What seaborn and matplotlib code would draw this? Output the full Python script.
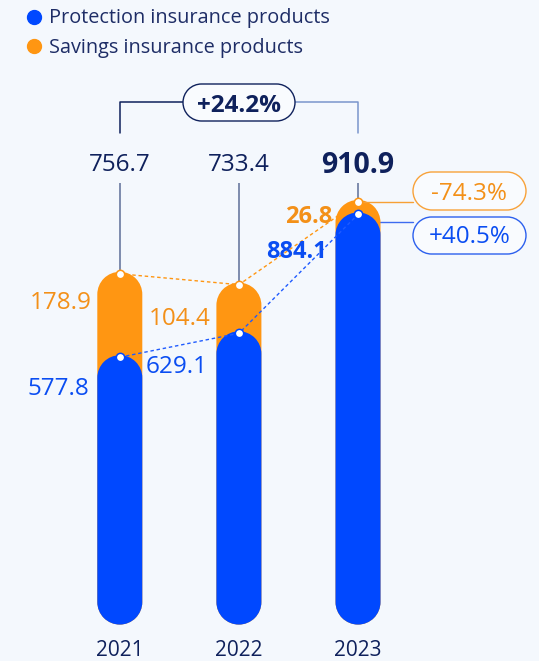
import numpy as np
import pandas as pd
import matplotlib
matplotlib.use("Agg")
import matplotlib.pyplot as plt
import matplotlib.transforms as mtransforms
from matplotlib.path import Path
from matplotlib.patches import PathPatch
from matplotlib.lines import Line2D
import seaborn as sns

# ---- data -------------------------------------------------------------
years = ["2021", "2022", "2023"]
protection = [577.8, 629.1, 884.1]
savings = [178.9, 104.4, 26.8]
totals = [756.7, 733.4, 910.9]
total_change = "+24.2%"
protection_change = "+40.5%"
savings_change = "-74.3%"
legend_labels = ["Protection insurance products", "Savings insurance products"]

# ---- style ------------------------------------------------------------
BG = "#F4F8FD"
BLUE = "#0048FF"
ORANGE = "#FF9612"
NAVY = "#0F215C"
LEGEND_TXT = "#1E2D66"
BLUE_TXT = "#0A4DF2"
ORANGE_TXT = "#F39018"
STEM = "#5D6E98"

W, H, DPI = 539, 661, 100
ZERO_PX = 624.6          # pixel row of the value axis origin
PX_PER_UNIT = 0.4662     # vertical pixels per unit of value
X0_PX, STEP_PX = 119.8, 119.1
BAR_PX = 45

sns.set_theme(style="white")
plt.rcParams["font.family"] = ["Open Sans", "DejaVu Sans"]

df = pd.DataFrame({"year": years, "protection": protection,
                   "savings": savings, "total": totals})

fig = plt.figure(figsize=(W / DPI, H / DPI), dpi=DPI, facecolor=BG)
ax = fig.add_axes([0, (H - ZERO_PX) / H, 1, ZERO_PX / H])
ax.set_facecolor(BG)

bar_w = BAR_PX / STEP_PX
sns.barplot(data=df, x="year", y="total", color=ORANGE, width=bar_w,
            saturation=1, errorbar=None, ax=ax)
sns.barplot(data=df, x="year", y="protection", color=BLUE, width=bar_w,
            saturation=1, errorbar=None, ax=ax)

ax.set_xlim(-X0_PX / STEP_PX, (W - X0_PX) / STEP_PX)
ax.set_ylim(0, ZERO_PX / PX_PER_UNIT)
ax.set_xlabel("")
ax.set_ylabel("")
ax.set_yticks([])
for s in ax.spines.values():
    s.set_visible(False)
ax.tick_params(axis="x", length=0, pad=11.0, labelsize=15, labelcolor=NAVY)

# pixel helpers (origin at top-left of the image)
pix = mtransforms.Affine2D().scale(1, -1).translate(0, H)
inv = ax.transData.inverted()


def py(ypx):
    return inv.transform((0, H - ypx))[1]


def px(xpx):
    return inv.transform((xpx, 0))[0]


p0 = ax.transData.transform((0, 0))
p1 = ax.transData.transform((1, 1))
aspect = (p1[0] - p0[0]) / (p1[1] - p0[1])


def vpill(cx, w, y0, y1, asp):
    rx = w / 2
    ry = rx * asp
    top = Path.arc(0, 180)
    bot = Path.arc(180, 360)
    tv = top.vertices * [rx, ry] + [cx, y1 - ry]
    bv = bot.vertices * [rx, ry] + [cx, y0 + ry]
    verts = np.vstack([tv, bv, tv[:1]])
    codes = np.concatenate([top.codes, bot.codes, [Path.CLOSEPOLY]])
    codes[len(top.codes)] = Path.LINETO
    return Path(verts, codes)


def hpill(cx, cy, w, h):
    r = h / 2
    right = Path.arc(-90, 90)
    left = Path.arc(90, 270)
    rv = right.vertices * r + [cx + w / 2 - r, cy]
    lv = left.vertices * r + [cx - w / 2 + r, cy]
    verts = np.vstack([rv, lv, rv[:1]])
    codes = np.concatenate([right.codes, left.codes, [Path.CLOSEPOLY]])
    codes[len(right.codes)] = Path.LINETO
    return Path(verts, codes)


# turn seaborn's rectangles into rounded pills
for k, rect in enumerate(list(ax.patches)):
    x0, y0 = rect.get_x(), rect.get_y()
    w, h = rect.get_width(), rect.get_height()
    fc = rect.get_facecolor()
    rect.remove()
    ax.add_patch(PathPatch(vpill(x0 + w / 2, w, y0, y0 + h, aspect),
                           facecolor=fc, edgecolor="none",
                           zorder=2 + (k >= 3), clip_on=False))

xs = np.arange(len(years))
dot_tr = ax.transData + mtransforms.ScaledTranslation(0, -2 / DPI,
                                                      fig.dpi_scale_trans)

# dashed trend lines joining the tops
ax.plot(xs, totals, ls=(0, (2.5, 2)), color=ORANGE, lw=1.0,
        transform=dot_tr, zorder=4)
ax.plot(xs, protection, ls=(0, (2.5, 2)), color="#1F5BFF", lw=1.0,
        transform=dot_tr, zorder=4)

# stems from total labels to bar tops
for i, t in enumerate(totals):
    ax.plot([i, i], [py(183), t], color=STEM, lw=1.1, zorder=1.5,
            solid_capstyle="butt")

# connectors to the change badges on the right
ax.plot([2, px(413)], [totals[2], totals[2]], color="#F7A035", lw=1.0,
        transform=dot_tr, zorder=4, clip_on=False)
ax.plot([2, px(413)], [py(222), py(222)], color="#3D6BF0", lw=1.0,
        zorder=1.5, clip_on=False)

# marker dots
ax.plot(xs, totals, ls="", marker="o", ms=6, mfc="white", mec=ORANGE,
        mew=1.1, transform=dot_tr, zorder=5, clip_on=False)
ax.plot(xs, protection, ls="", marker="o", ms=6, mfc="white", mec=BLUE,
        mew=1.1, transform=dot_tr, zorder=5, clip_on=False)

# total labels
for i, t in enumerate(totals):
    last = i == len(totals) - 1
    ax.text(i, py(173.3 if last else 170.5), f"{t:.1f}", ha="center",
            va="baseline", color=NAVY, fontsize=20.5 if last else 17.5,
            fontweight="bold" if last else "normal", zorder=6)

# segment labels: (gap left of bar, drop below value) in pixels
sav_offsets = [(6, 36.7), (5.5, 42.3), (3.5, 23.0)]
pro_offsets = [(8.5, 39.8), (8.5, 41.7), (8.5, 45.6)]
for i in range(len(years)):
    last = i == len(years) - 1
    for val, top, (gx, gy), col in (
            (savings[i], totals[i], sav_offsets[i], ORANGE_TXT),
            (protection[i], protection[i], pro_offsets[i], BLUE_TXT)):
        ax.annotate(f"{val:.1f}", xy=(i - bar_w / 2, top),
                    xytext=(-gx * 0.72, -gy * 0.72),
                    textcoords="offset points", ha="right", va="baseline",
                    color=col, fontsize=17 if last else 17.5,
                    fontweight="bold" if last else "normal", zorder=6,
                    annotation_clip=False)

# bracket with overall change
ax.plot([0, 0, px(183)], [py(133), py(102), py(102)], color=NAVY, lw=1.1,
        zorder=1.5, clip_on=False)
ax.plot([px(295), 2, 2], [py(102), py(102), py(133)], color="#7A96CC",
        lw=1.1, zorder=1.5, clip_on=False)

badges = [
    (239, 102.5, 112, 37, NAVY, NAVY, total_change, 111.5, "bold", 17.5),
    (469.5, 191, 113, 38, "#F8A23A", ORANGE_TXT, savings_change, 199.5,
     "normal", 17.5),
    (469.5, 235.5, 113, 37, "#2C60EE", BLUE_TXT, protection_change, 243,
     "normal", 17.5),
]
for cx, cy, bw, bh, ec, tc, label, base, wt, fs in badges:
    fig.add_artist(PathPatch(hpill(cx, cy, bw, bh), transform=pix,
                             facecolor="#F9FBFE", edgecolor=ec, lw=1.0,
                             zorder=7))
    fig.text(cx, base, label, transform=pix, ha="center", va="baseline",
             color=tc, fontsize=fs, fontweight=wt, zorder=8)

# legend
handles = [Line2D([], [], ls="", marker="o", ms=10, mfc=c, mec=c)
           for c in (BLUE, ORANGE)]
fig.legend(handles, legend_labels, loc="upper left", bbox_to_anchor=(26.5, 8.5),
           bbox_transform=pix, frameon=False, fontsize=14.3,
           handlelength=0.75, handletextpad=0.38, labelspacing=0.5,
           borderpad=0, borderaxespad=0, labelcolor=LEGEND_TXT)

fig.savefig("out.png", dpi=DPI, facecolor=BG)
